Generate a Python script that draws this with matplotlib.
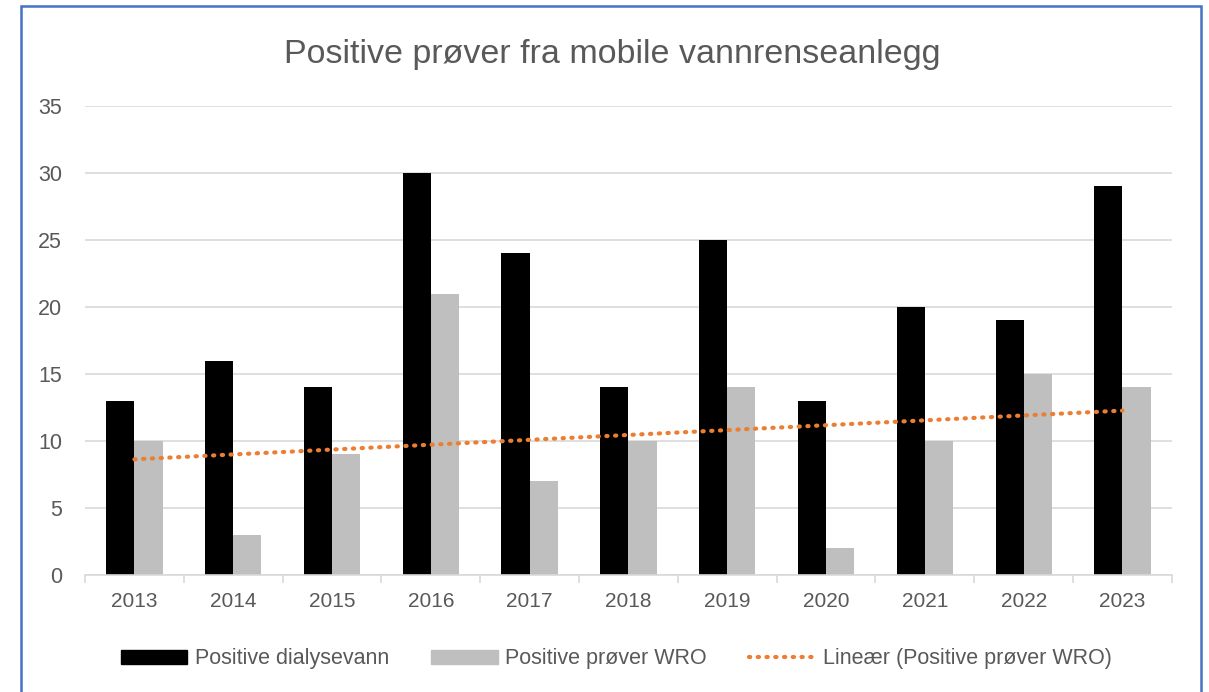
import numpy as np
import matplotlib.pyplot as plt
from matplotlib.patches import Rectangle
from matplotlib.lines import Line2D

plt.rcParams['font.family'] = ['Liberation Sans', 'DejaVu Sans']

years = ['2013', '2014', '2015', '2016', '2017', '2018', '2019', '2020', '2021', '2022', '2023']
dialysevann = [13, 16, 14, 30, 24, 14, 25, 13, 20, 19, 29]
wro = [10, 3, 9, 21, 7, 10, 14, 2, 10, 15, 14]

text_col = '#595959'
grid_col = '#D9D9D9'
dots = (0, (0.3, 1.8))

fig = plt.figure(figsize=(12.09, 6.92), dpi=100)
ax = fig.add_axes([0.0703, 0.169, 0.899, 0.6778])

x = np.arange(len(years))
w = 0.285
ax.bar(x - w / 2, dialysevann, width=w, color='black', label='Positive dialysevann', zorder=2)
ax.bar(x + w / 2, wro, width=w, color='#BFBFBF', label='Positive prøver WRO', zorder=2)

# linear trend of WRO
slope, intercept = np.polyfit(x, wro, 1)
ax.plot(x, slope * x + intercept, color='#ED7D31', linestyle=dots, linewidth=3.0,
        dash_capstyle='round', zorder=3)

ax.set_xlim(-0.5, len(years) - 0.5)
ax.set_ylim(0, 35)
ax.set_yticks(range(0, 36, 5))
ax.yaxis.grid(True, color=grid_col, linewidth=1.2, zorder=0)
ax.set_axisbelow(True)

for s in ['top', 'right', 'left']:
    ax.spines[s].set_visible(False)
ax.spines['bottom'].set_color(grid_col)
ax.spines['bottom'].set_linewidth(1.2)

ax.set_xticks(x)
ax.set_xticklabels(years)
ax.set_xticks(np.arange(-0.5, len(years), 1), minor=True)
ax.tick_params(axis='x', which='major', length=0, pad=12, labelsize=15, labelcolor=text_col)
ax.tick_params(axis='x', which='minor', length=6, width=1.2, color=grid_col)
ax.tick_params(axis='y', length=0, pad=16.5, labelsize=15.5, labelcolor=text_col)

fig.text(0.5066, 0.921, 'Positive prøver fra mobile vannrenseanlegg', ha='center', va='center',
         fontsize=24.5, color=text_col)

handles = [Rectangle((0, 0), 1, 1, color='black'),
           Rectangle((0, 0), 1, 1, color='#BFBFBF'),
           Line2D([0], [0], color='#ED7D31', linestyle=dots, linewidth=3.0, dash_capstyle='round')]
labels = ['Positive dialysevann', 'Positive prøver WRO', 'Lineær (Positive prøver WRO)']
fig.legend(handles, labels, loc='center', bbox_to_anchor=(0.510, 0.0477), ncol=3, frameon=False,
           fontsize=15.5, labelcolor=text_col, handlelength=3.07, handleheight=0.6,
           handletextpad=0.37, columnspacing=1.95)

# chart border
fig.patches.append(Rectangle((0.0174, -0.02), 0.976, 1.011, transform=fig.transFigure,
                             fill=False, edgecolor='#4472C4', linewidth=1.8))

fig.savefig('out.png', dpi=100)
